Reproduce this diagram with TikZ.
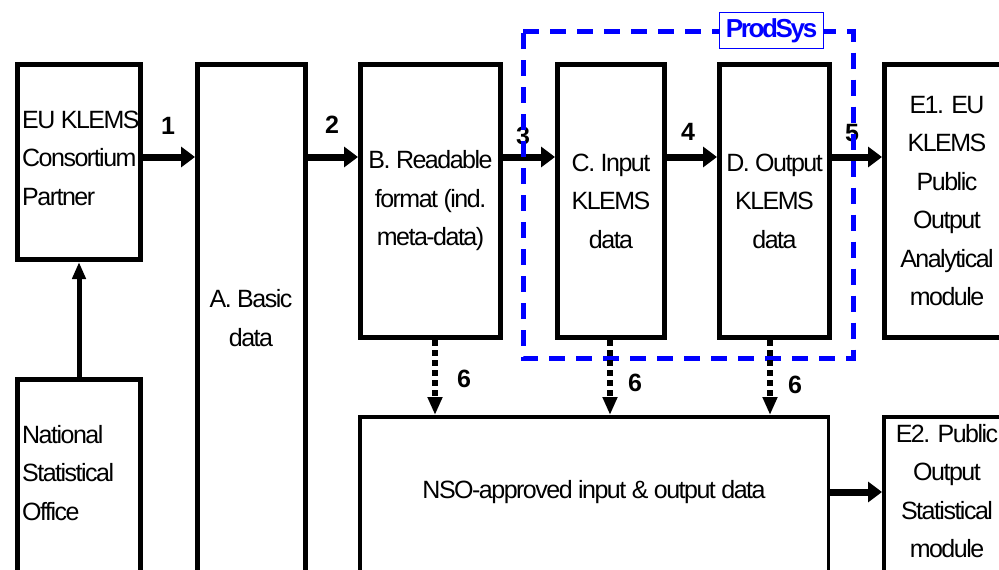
\documentclass[tikz,border=0pt]{standalone}
\usepackage{fontspec}
\setmainfont{Liberation Sans}[LetterSpace=-6]
\usetikzlibrary{arrows.meta}
\begin{document}
\begin{tikzpicture}[x=1pt,y=-1pt,
  box/.style={draw, line width=5pt, anchor=north west, inner sep=0pt},
  thinbox/.style={draw, line width=3.5pt, anchor=north west, inner sep=0pt},
  txt/.style={font=\fontsize{25}{38.5}\selectfont, align=center, inner sep=0pt},
  num/.style={font=\fontsize{25}{30}\selectfont\bfseries, inner sep=0pt},
  arr/.style={line width=7pt, -{Triangle[length=14pt,width=20pt]}},
  arrup/.style={line width=5pt, -{Triangle[length=17pt,width=13pt]}},
  dotarr/.style={line width=5.5pt, dash pattern=on 6pt off 4pt, -{Triangle[length=18pt,width=14pt]}}]
\useasboundingbox (0,0) rectangle (999,570);
% boxes
\node[box, minimum width=123pt, minimum height=195pt] (eu) at (15,62) {};
\node[box, minimum width=123pt, minimum height=230pt] (nat) at (15,377) {};
\node[box, minimum width=108pt, minimum height=540pt] (A) at (195,62) {};
\node[box, minimum width=140pt, minimum height=273pt, txt] (B) at (358,62) {B. Readable\\format (ind.\\meta-data)};
\node[box, minimum width=107pt, minimum height=273pt, txt] (C) at (555,62) {C. Input\\KLEMS\\data};
\node[box, minimum width=110pt, minimum height=273pt, txt] (D) at (717,62) {D. Output\\KLEMS\\data};
\node[box, minimum width=125pt, minimum height=273pt, txt] (E1) at (882,62) {E1. EU\\KLEMS\\Public\\Output\\Analytical\\module};
\node[thinbox, minimum width=468.5pt, minimum height=200pt] (NSO) at (358,415) {};
\node[thinbox, minimum width=136.5pt, minimum height=200pt] (E2) at (882,415) {};
% texts
\node[txt, align=left, anchor=west] (eutxt) at (22,158) {EU KLEMS\\Consortium\\Partner};
\node[txt, align=left, anchor=west] (nattxt) at (22,473) {National\\Statistical\\Office};
\node[txt] (Atxt) at (251,318) {A. Basic\\data};
\node[txt] (NSOtxt) at (594,492) {NSO-approved input \& output data};
\node[txt] (E2txt) at (947,491) {E2. Public\\Output\\Statistical\\module};
% rows
\coordinate (row) at (0,157);
\coordinate (row2) at (0,492);
\coordinate (d1) at (435,0);
\coordinate (d2) at (610,0);
\coordinate (d3) at (770,0);
% solid arrows
\draw[arr] (eu.east |- row) -- (A.west |- row);
\draw[arr] (A.east |- row) -- (B.west |- row);
\draw[arr] (B.east |- row) -- (C.west |- row);
\draw[arr] (C.east |- row) -- (D.west |- row);
\draw[arr] (D.east |- row) -- (E1.west |- row);
\draw[arrup] (nat.north) -- (eu.south);
\draw[arr] (NSO.east |- row2) -- (E2.west |- row2);
% labels
\node[num] (n1) at (168,126) {1};
\node[num] (n2) at (332,125) {2};
\node[num] (n3) at (523,136) {3};
\node[num] (n4) at (688,132) {4};
\node[num] (n5) at (852,133) {5};
% ProdSys frame
\draw[blue, line width=5pt, dash pattern=on 16pt off 11pt] (523,31.5) -- (853,31.5) -- (853,358) -- (523,358) -- cycle;
\node[draw=blue, fill=white, line width=1.5pt, text=blue, inner sep=0pt, minimum width=104pt, minimum height=36pt, font=\fontsize{26}{30}\selectfont\bfseries\addfontfeature{LetterSpace=-9}] (ps) at (771.5,30.5) {ProdSys};
% dotted arrows
\draw[dotarr] (B.south -| d1) -- (NSO.north -| d1);
\draw[dotarr] (C.south -| d2) -- (NSO.north -| d2);
\draw[dotarr] (D.south -| d3) -- (NSO.north -| d3);
\node[num] (n6a) at (464,379) {6};
\node[num] (n6b) at (635,383) {6};
\node[num] (n6c) at (795,385) {6};
\end{tikzpicture}
\end{document}
